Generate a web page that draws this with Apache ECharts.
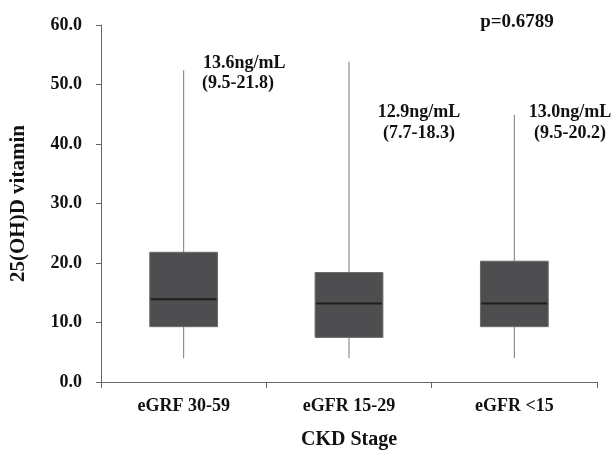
<!DOCTYPE html>
<html>
<head>
<meta charset="utf-8" />
<title></title>
<script src="https://cdn.jsdelivr.net/npm/echarts@6/dist/echarts.min.js"></script>
<style>
  * { padding: 0; margin: 0; }
  #main { width: 613px; height: 455px; background: #fff; }
</style>
</head>
<body>
<div id="main"></div>
<script type="text/javascript">
// categories and box values (min, q1, median, q3, max)
var categories = ['eGRF 30-59', 'eGFR 15-29', 'eGFR <15'];
var mins    = [4.0, 4.0, 4.0];
var q1s     = [9.3, 7.5, 9.3];
var medians = [13.9, 13.2, 13.2];
var q3s     = [21.8, 18.4, 20.3];
var maxs    = [52.4, 53.8, 44.9];
// annotation texts
var noteLine1 = ['13.6ng/mL', '12.9ng/mL', '13.0ng/mL'];
var noteLine2 = ['(9.5-21.8)', '(7.7-18.3)', '(9.5-20.2)'];
var pText = 'p=0.6789';

var font = '"Liberation Serif", "Times New Roman", serif';

var boxData = [];
for (var i = 0; i < categories.length; i++) {
  boxData.push([i, mins[i], q1s[i], medians[i], q3s[i], maxs[i]]);
}

// little helper for the text notes
function note(txt, x, y, size, align) {
  return {
    type: 'text', x: x, y: y,
    style: { text: txt, font: 'bold ' + size + 'px ' + font, fill: '#111',
             textAlign: align, textVerticalAlign: 'middle' }
  };
}

var myChart = echarts.init(document.getElementById('main'));

var option = {
  backgroundColor: '#fff',
  animation: false,
  grid: { left: 100, right: 16, top: 25, bottom: 72 },
  xAxis: {
    type: 'category',
    data: categories,
    name: 'CKD Stage',
    nameLocation: 'middle',
    nameGap: 48,
    nameTextStyle: { fontFamily: font, fontWeight: 'bold', fontSize: 20, color: '#111' },
    axisLine: { lineStyle: { color: '#666', width: 1 } },
    axisTick: { show: true, length: 6, lineStyle: { color: '#666' } },
    axisLabel: { fontFamily: font, fontWeight: 'bold', fontSize: 18, color: '#111', margin: 15 },
    splitLine: { show: false }
  },
  yAxis: {
    type: 'value',
    min: 0,
    max: 60,
    interval: 10,
    name: '25(OH)D vitamin',
    nameLocation: 'middle',
    nameGap: 72,
    nameTextStyle: { fontFamily: font, fontWeight: 'bold', fontSize: 21, color: '#111' },
    axisLine: { show: true, lineStyle: { color: '#666', width: 1 } },
    axisTick: { show: true, length: 5, lineStyle: { color: '#666' } },
    axisLabel: {
      fontFamily: font, fontWeight: 'bold', fontSize: 18, color: '#111', margin: 19,
      formatter: function (v) { return v.toFixed(1); }
    },
    splitLine: { show: false }
  },
  series: [{
    type: 'custom',
    data: boxData,
    encode: { x: 0, y: [1, 2, 3, 4, 5] },
    renderItem: function (params, api) {
      var idx = api.value(0);
      var pMin = api.coord([idx, api.value(1)]);
      var pQ1 = api.coord([idx, api.value(2)]);
      var pMed = api.coord([idx, api.value(3)]);
      var pQ3 = api.coord([idx, api.value(4)]);
      var pMax = api.coord([idx, api.value(5)]);
      var w = api.size([1, 0])[0] * 0.41;
      var x = pQ1[0];
      return {
        type: 'group',
        children: [
          { type: 'line', shape: { x1: x, y1: pMax[1], x2: x, y2: pQ3[1] },
            style: { stroke: '#7a7a7a', lineWidth: 1 } },
          { type: 'line', shape: { x1: x, y1: pQ1[1], x2: x, y2: pMin[1] },
            style: { stroke: '#7a7a7a', lineWidth: 1 } },
          { type: 'rect', shape: { x: x - w / 2, y: pQ3[1], width: w, height: pQ1[1] - pQ3[1] },
            style: { fill: '#4e4e50', stroke: '#6a6a6a', lineWidth: 1 } },
          { type: 'line', shape: { x1: x - w / 2 + 1, y1: pMed[1], x2: x + w / 2 - 1, y2: pMed[1] },
            style: { stroke: '#1e1e1e', lineWidth: 2 } }
        ]
      };
    }
  }],
  graphic: [
    note(pText, 517, 22, 19, 'center'),
    note(noteLine1[0], 203, 63, 18, 'left'),
    note(noteLine2[0], 202, 83, 18, 'left'),
    note(noteLine1[1], 419, 112, 18, 'center'),
    note(noteLine2[1], 419, 133, 18, 'center'),
    note(noteLine1[2], 570, 112, 18, 'center'),
    note(noteLine2[2], 570, 133, 18, 'center')
  ]
};

myChart.setOption(option);
</script>
</body>
</html>
